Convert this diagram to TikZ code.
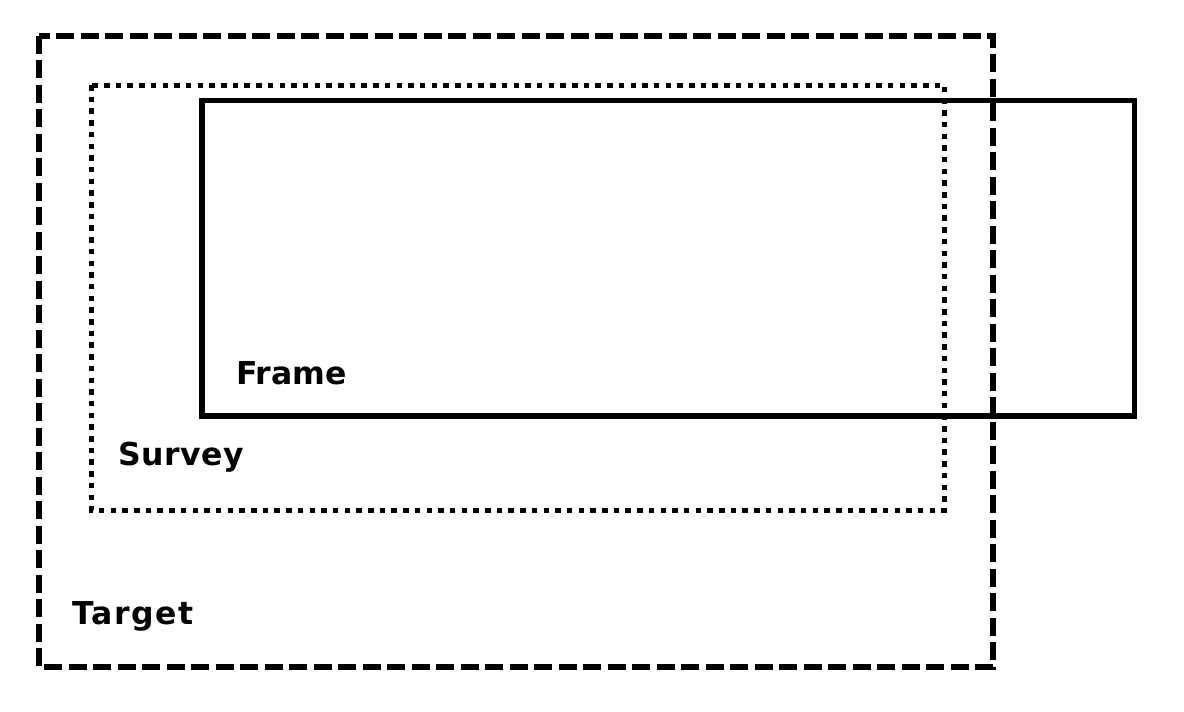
\documentclass[tikz,border=0pt]{standalone}
\usepackage{fontspec}
\setmainfont{DejaVu Sans}
\begin{document}
\begin{tikzpicture}[x=1pt,y=-1pt,
  targetbox/.style={line width=6pt,dash pattern=on 18pt off 6.5pt},
  surveybox/.style={line width=5pt,dash pattern=on 5.5pt off 6.2pt},
  framebox/.style={line width=5.5pt},
  lbl/.style={anchor=base west,inner sep=0pt,font=\fontsize{31.5}{36}\selectfont\bfseries}]
\useasboundingbox[fill=white] (0,0) rectangle (1184,712);
\draw[targetbox] (38.7,35.5) rectangle (993,667);
\draw[surveybox] (91,85) rectangle (944.7,510);
\draw[framebox] (202,100.5) rectangle (1134.5,416);
\node[lbl] (frame) at (236,384) {Frame};
\node[lbl] (survey) at (118,465) {\addfontfeature{LetterSpace=2}Survey};
\node[lbl] (target) at (72,624) {\addfontfeature{LetterSpace=5}Target};
\end{tikzpicture}
\end{document}
